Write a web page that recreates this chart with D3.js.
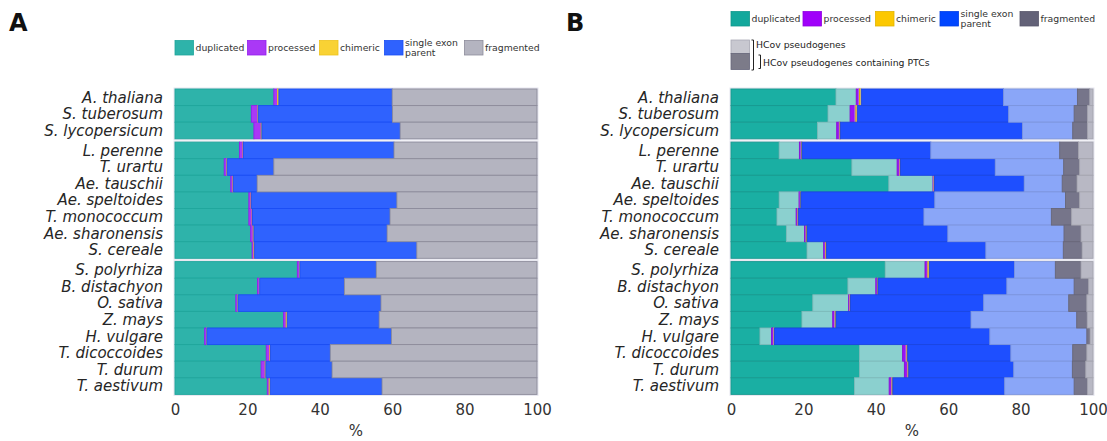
<!DOCTYPE html>
<html>
<head>
<meta charset="utf-8">
<script src="https://cdn.jsdelivr.net/npm/d3@7"></script>
<style>
  html, body { margin: 0; padding: 0; background: #fff; }
  svg { display: block; font-family: "DejaVu Sans", sans-serif; }
</style>
</head>
<body>
<svg id="chart" width="1107" height="441"></svg>
<script>
// Species, listed top to bottom, in three groups
const species = [
  "A. thaliana", "S. tuberosum", "S. lycopersicum",
  "L. perenne", "T. urartu", "Ae. tauschii", "Ae. speltoides", "T. monococcum", "Ae. sharonensis", "S. cereale",
  "S. polyrhiza", "B. distachyon", "O. sativa", "Z. mays", "H. vulgare", "T. dicoccoides", "T. durum", "T. aestivum"
];
const groupOf = [0,0,0, 1,1,1,1,1,1,1, 2,2,2,2,2,2,2,2];
const xTicks = [0, 20, 40, 60, 80, 100];

// Panel A: share (%) of all pseudogenes per category
const dupA    = [27.3, 21.1, 21.8, 17.8, 13.6, 15.4, 20.4, 20.4, 20.9, 21.3, 33.8, 22.8, 16.8, 30.0, 8.2, 25.2, 23.8, 25.5];
const procA   = [1.0, 1.8, 2.0, 1.0, 0.7, 0.6, 0.6, 0.9, 0.7, 0.5, 0.6, 0.5, 0.5, 0.7, 0.5, 1.0, 1.1, 0.5];
const chimA   = [0.4, 0.1, 0.2, 0.1, 0.1, 0.1, 0.1, 0.1, 0.2, 0.2, 0.1, 0.1, 0.1, 0.3, 0.1, 0.2, 0.2, 0.3];
const singleA = [31.3, 37.1, 38.2, 41.6, 12.9, 6.6, 40.2, 38.0, 36.8, 44.8, 21.1, 23.4, 39.5, 25.4, 51.0, 16.5, 18.3, 30.9];
const fragA   = [40.0, 39.9, 37.8, 39.5, 72.7, 77.3, 38.7, 40.6, 41.4, 33.2, 44.4, 53.2, 43.1, 43.6, 40.2, 57.1, 56.6, 42.8];

// Panel B: HCov pseudogenes, split into those containing PTCs and the rest
const dupPtcB    = [29.0, 26.8, 23.9, 13.3, 33.4, 43.6, 13.3, 12.7, 15.3, 21.0, 42.6, 32.3, 22.6, 19.6, 8.0, 35.5, 35.5, 34.1];
const dupOtherB  = [5.6, 6.1, 5.3, 5.6, 12.5, 12.2, 5.5, 5.3, 5.0, 4.6, 11.0, 7.7, 9.9, 8.5, 3.2, 11.9, 12.4, 9.6];
const procPtcB   = [0.7, 1.3, 0.7, 0.4, 0.6, 0.2, 0.3, 0.4, 0.4, 0.4, 0.6, 0.4, 0.3, 0.5, 0.5, 0.9, 0.8, 0.6];
const procOtherB = [0.2, 0.3, 0.2, 0.2, 0.2, 0.1, 0.1, 0.1, 0.1, 0.2, 0.2, 0.1, 0.1, 0.2, 0.2, 0.3, 0.2, 0.2];
const chimPtcB   = [0.3, 0.3, 0.1, 0.1, 0.1, 0.1, 0.1, 0.1, 0.2, 0.2, 0.3, 0.1, 0.1, 0.2, 0.1, 0.2, 0.2, 0.2];
const chimOtherB = [0.2, 0.1, 0.0, 0.0, 0.0, 0.0, 0.0, 0.0, 0.0, 0.0, 0.1, 0.0, 0.0, 0.0, 0.0, 0.0, 0.0, 0.0];
const singlePtcB = [39.3, 41.8, 50.3, 35.6, 26.2, 24.8, 37.0, 34.7, 38.9, 44.0, 23.5, 35.6, 36.8, 37.3, 59.5, 28.5, 29.0, 30.9];
const singleOtherB = [20.4, 18.1, 13.9, 35.6, 18.9, 10.5, 36.1, 35.2, 32.1, 21.4, 11.3, 18.6, 23.5, 29.2, 26.8, 17.1, 16.2, 19.2];
const fragPtcB   = [3.4, 3.7, 4.1, 5.2, 4.4, 4.1, 3.9, 5.6, 4.7, 5.2, 7.1, 4.0, 5.0, 2.9, 0.9, 3.9, 3.7, 3.7];
const fragOtherB = [0.9, 1.5, 1.5, 4.0, 3.7, 4.4, 3.7, 5.9, 3.3, 3.0, 3.3, 1.2, 1.7, 1.6, 0.8, 1.7, 2.0, 1.5];

// Legend entries
const categories = ["duplicated", "processed", "chimeric", "single exon parent", "fragmented"];

// Colours
const fillA   = ["#2eb3aa", "#aa38f6", "#f9d234", "#2f62fe", "#b4b4c0"];
const strokeA = ["#1fa69c", "#9320ee", "#eec21c", "#1a4ef4", "#8d8c9b"];
const legendB = ["#13a89c", "#a000fa", "#fcc800", "#0046ff", "#636278"];
const darkB   = ["#1aafa3", "#9a12f5", "#fbc400", "#1e4fff", "#76758a"];
const lightB  = ["#8bd0cf", "#c27df7", "#fbe080", "#8aa6f8", "#b8b8c4"];

const svg = d3.select("#chart");

// Vertical layout: bands per species, with a small gap between groups
const bandH = 16.6, groupGap = 3.3, topY = 89;
const yBand = d3.scaleBand().domain(species).range([topY, topY + bandH * species.length]).padding(0);
const yOf = (s) => yBand(s) + groupOf[species.indexOf(s)] * groupGap;

const groups = d3.range(3).map(g => {
  const members = species.filter((s, i) => groupOf[i] === g);
  return { top: yOf(members[0]), bottom: yOf(members[members.length - 1]) + yBand.bandwidth() };
});

function drawPanel(x0, x1, labelX, keys, table, fills, strokes) {
  const x = d3.scaleLinear().domain([0, 100]).range([x0, x1]);
  const g = svg.append("g");

  // light frame behind each group of bars
  g.selectAll("rect.frame").data(groups).join("rect")
    .attr("class", "frame")
    .attr("x", x(0) - 1.5).attr("width", x(100) - x(0) + 3)
    .attr("y", d => d.top - 1.5).attr("height", d => d.bottom - d.top + 3)
    .attr("fill", "#e6e6ef");

  const series = d3.stack().keys(keys)(table);
  g.selectAll("g.series").data(series).join("g")
    .attr("class", "series")
    .attr("fill", (d, i) => fills[i])
    .attr("stroke", (d, i) => strokes[i])
    .selectAll("rect").data(d => d).join("rect")
      .attr("x", d => x(d[0]))
      .attr("width", d => Math.max(0, x(d[1]) - x(d[0])))
      .attr("y", d => yOf(d.data.species))
      .attr("height", yBand.bandwidth())
      .attr("stroke-width", 0.9);

  // species labels
  g.selectAll("text.sp").data(species).join("text")
    .attr("class", "sp")
    .attr("x", labelX).attr("y", d => yOf(d) + yBand.bandwidth() / 2)
    .attr("dy", "0.35em").attr("text-anchor", "end")
    .attr("font-style", "italic").attr("font-size", 15).attr("fill", "#262626")
    .text(d => d);

  // x axis
  const ax = g.append("g").attr("transform", "translate(0,396)")
    .call(d3.axisBottom(x).tickValues(xTicks).tickSize(0).tickPadding(8));
  ax.select(".domain").remove();
  ax.selectAll("text").attr("font-size", 15).attr("fill", "#333")
    .attr("font-family", "DejaVu Sans, sans-serif");

  g.append("text").attr("x", (x0 + x1) / 2).attr("y", 436)
    .attr("text-anchor", "middle").attr("font-size", 15).attr("fill", "#333").text("%");
}

// Panel A
const tableA = species.map((s, i) => ({
  species: s, dup: dupA[i], proc: procA[i], chim: chimA[i], single: singleA[i], frag: fragA[i]
}));
drawPanel(175, 537, 163, ["dup", "proc", "chim", "single", "frag"], tableA, fillA, strokeA);

// Panel B
const tableB = species.map((s, i) => ({
  species: s,
  dupP: dupPtcB[i], dupO: dupOtherB[i],
  procP: procPtcB[i], procO: procOtherB[i],
  chimP: chimPtcB[i], chimO: chimOtherB[i],
  singleP: singlePtcB[i], singleO: singleOtherB[i],
  fragP: fragPtcB[i], fragO: fragOtherB[i]
}));
const keysB = ["dupP", "dupO", "procP", "procO", "chimP", "chimO", "singleP", "singleO", "fragP", "fragO"];
const fillsB = [], strokesB = [];
for (let k = 0; k < 5; k++) {
  fillsB.push(darkB[k], lightB[k]);
  strokesB.push(d3.color(darkB[k]).darker(0.35).formatHex(), d3.color(lightB[k]).darker(0.3).formatHex());
}
drawPanel(731, 1093, 719, keysB, tableB, fillsB, strokesB);

// Legends
function legend(xs, y, fills, strokes) {
  const g = svg.append("g");
  categories.forEach((c, i) => {
    g.append("rect").attr("x", xs[i]).attr("y", y).attr("width", 18.5).attr("height", 14.5)
      .attr("fill", fills[i]).attr("stroke", strokes[i]).attr("stroke-width", 0.8);
    const t = g.append("text").attr("x", xs[i] + 20.5).attr("font-size", 9.3).attr("fill", "#333");
    if (c === "single exon parent") {
      t.append("tspan").attr("x", xs[i] + 20.5).attr("y", y + 5).text("single exon");
      t.append("tspan").attr("x", xs[i] + 20.5).attr("y", y + 15.5).text("parent");
    } else {
      t.attr("y", y + 10.5).text(c);
    }
  });
}
legend([175, 247.5, 319.5, 384.5, 464.5], 40.5, fillA, strokeA);
legend([731, 803, 875.5, 940, 1020], 11.5, legendB, legendB.map(c => d3.color(c).darker(0.3).formatHex()));

// HCov / PTC key
const key = svg.append("g");
key.append("rect").attr("x", 731).attr("y", 40).attr("width", 18.5).attr("height", 13.5)
  .attr("fill", "#c8c8d0").attr("stroke", "#a9a9b4").attr("stroke-width", 0.8);
key.append("rect").attr("x", 731).attr("y", 53.5).attr("width", 18.5).attr("height", 16)
  .attr("fill", "#7c7b89").attr("stroke", "#67667a").attr("stroke-width", 0.8);
key.append("path").attr("d", "M751.5,40 H753.5 V70 H751.5").attr("fill", "none").attr("stroke", "#222").attr("stroke-width", 1);
key.append("path").attr("d", "M758.5,55 H760.5 V68.5 H758.5").attr("fill", "none").attr("stroke", "#222").attr("stroke-width", 1);
key.append("text").attr("x", 756).attr("y", 47.8).attr("font-size", 9.3).attr("fill", "#222").text("HCov pseudogenes");
key.append("text").attr("x", 763).attr("y", 65.5).attr("font-size", 9.3).attr("fill", "#222").text("HCov pseudogenes containing PTCs");

// Panel letters
svg.append("text").attr("x", 9).attr("y", 31).attr("font-size", 24).attr("font-weight", "bold").attr("fill", "#111").text("A");
svg.append("text").attr("x", 566).attr("y", 31).attr("font-size", 24).attr("font-weight", "bold").attr("fill", "#111").text("B");
</script>
</body>
</html>
